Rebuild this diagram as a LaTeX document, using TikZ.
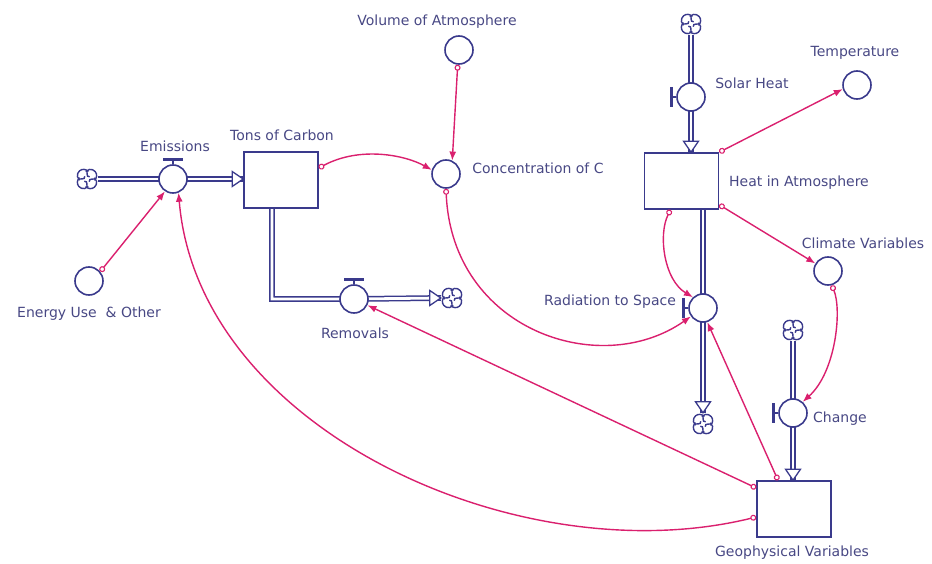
\documentclass[tikz,border=0pt]{standalone}
\usepackage{fontspec}
\newfontfamily\lblfont{DejaVu Sans}
\usetikzlibrary{arrows.meta,calc}
\pgfdeclarelayer{background}
\pgfsetlayers{background,main}
\definecolor{navy}{RGB}{58,58,140}
\definecolor{txt}{RGB}{72,72,132}
\definecolor{mag}{RGB}{218,32,110}
\newcommand{\tipR}[1]{\draw[draw=navy,fill=white,line width=1.3pt] (#1) -- ++(-11,-7.5) -- ++(0,15) -- cycle;}
\newcommand{\tipD}[1]{\draw[draw=navy,fill=white,line width=1.3pt] (#1) -- ++(-7.5,-11) -- ++(15,0) -- cycle;}
\newcommand{\handleT}[1]{\draw[navy,line width=1.4pt] (#1.north) -- ++(0,-4);
  \draw[navy,line width=2.8pt] ($(#1.north)+(-10,-5)$) -- ++(20,0);}
\newcommand{\handleL}[1]{\draw[navy,line width=1.4pt] (#1.west) -- ++(-4,0);
  \draw[navy,line width=2.8pt] ($(#1.west)+(-5,-10)$) -- ++(0,20);}
\tikzset{
 valve/.style={circle,draw=navy,line width=1.6pt,fill=white,minimum size=28pt,inner sep=0pt},
 aux/.style={circle,draw=navy,line width=1.6pt,fill=white,minimum size=28pt,inner sep=0pt},
 stock/.style={rectangle,draw=navy,line width=1.6pt,fill=white,minimum width=74pt,minimum height=56pt,inner sep=0pt},
 cloudnode/.style={circle,minimum size=22pt,inner sep=0pt},
 lbl/.style={font=\lblfont\fontsize{14}{16}\selectfont,text=txt,inner sep=1pt},
 pipe/.style={draw=navy,double=white,double distance=2.8pt,line width=1.5pt},
 conn/.style={draw=mag,line width=1.4pt,{Circle[open,length=6pt,width=6pt,line width=1.1pt]}-{Latex[length=9pt,width=7pt]}},
 cloudsym/.pic={
  \begin{scope}[x=1.35pt,y=1.35pt,navy,line width=1.4pt]
  \foreach \a in {45,135,225,315}{
    \draw (\a:3.6) ++(\a-95:4.6) arc[start angle=\a-95,end angle=\a+95,radius=4.6];
    \draw (\a+45:5.2) .. controls (\a+45:2.5) and (\a+15:1) .. (\a-5:2.6);
  }
  \end{scope}
 }
}
\begin{document}
\begin{tikzpicture}[x=1pt,y=-1pt]
\useasboundingbox (0,0) rectangle (932,564);
% nodes
\node[cloudnode] (cE) at (87,179) {};
\node[valve] (emis) at (173,179) {};
\node[stock] (tons) at (281,180) {};
\node[aux] (energy) at (89,281) {};
\node[valve] (remv) at (354,299) {};
\node[cloudnode] (cR) at (452,298) {};
\node[aux] (vol) at (459,50) {};
\node[aux] (conc) at (446,174) {};
\node[stock] (heat) at (681.5,181) {};
\node[cloudnode] (cS) at (691,24) {};
\node[valve] (solar) at (691,97) {};
\node[aux] (temp) at (857,85) {};
\node[aux] (clim) at (828,271) {};
\node[valve] (rad) at (703,308) {};
\node[cloudnode] (cD) at (703,424) {};
\node[cloudnode] (cC) at (793,330) {};
\node[valve] (chg) at (793,413) {};
\node[stock] (geo) at (794,509) {};
% clouds
\foreach \c in {cE,cR,cS,cD,cC} {\pic at (\c) {cloudsym};}
% pipes
\begin{pgfonlayer}{background}
\draw[pipe] (cE.east) -- (emis.center) -- (emis.center -| tons.center);
\draw[pipe] ($(tons.center)+(-9,0)$) |- (remv.center) -- (cR.west);
\draw[pipe] (cS.south) -- (solar.center) -- (solar.center |- heat.center);
\draw[pipe] (rad.center |- heat.center) -- (rad.center) -- (cD.north);
\draw[pipe] (cC.south) -- (chg.center) -- (chg.center |- geo.center);
\end{pgfonlayer}
\tipR{emis.center -| tons.west}
\tipR{cR.west}
\tipD{solar.center |- heat.north}
\tipD{cD.north}
\tipD{chg.center |- geo.north}
% handles
\handleT{emis}
\handleT{remv}
\handleL{solar}
\handleL{rad}
\handleL{chg}
% labels
\node[lbl] (lEmis) at (175,146) {Emissions};
\node[lbl] (lTons) at (282,135) {Tons of Carbon};
\node[lbl] (lEnergy) at (89,314) {Energy Use\ \ \& Other};
\node[lbl] (lVol) at (437,22) {Volume of Atmosphere};
\node[lbl] (lConc) at (538,168) {Concentration of C};
\node[lbl] (lRemv) at (355,333) {Removals};
\node[lbl] (lRad) at (610,302) {Radiation to Space};
\node[lbl] (lSolar) at (752,83) {Solar Heat};
\node[lbl] (lTemp) at (855,53) {Temperature};
\node[lbl] (lHeat) at (799,183) {Heat in Atmosphere};
\node[lbl] (lClim) at (863,243) {Climate Variables};
\node[lbl] (lChg) at (840,419) {Change};
\node[lbl] (lGeo) at (792,553) {Geophysical Variables};
% connectors
\draw[conn] (energy.40) -- (emis.237);
\draw[conn] ($(geo.west)+(0,8)$) .. controls (520,575) and (198,430) .. (emis.292);
\draw[conn] ($(tons.east)+(0,-12)$) .. controls (360,146) and (405,155) .. (conc.164);
\draw[conn] (vol.265) -- (conc.65);
\draw[conn] (conc.south) .. controls (452,330) and (600,380) .. (rad.215);
\draw[conn] ($(heat.south)+(-11,0)$) .. controls (658,235) and (664,280) .. (rad.133);
\draw[conn] ($(geo.north)+(-16,0)$) -- (rad.287);
\draw[conn] ($(geo.west)+(0,-21)$) -- (remv.335);
\draw[conn] (heat.north east) -- (temp.196);
\draw[conn] ($(heat.south east)+(0,-5)$) -- (clim.149);
\draw[conn] (clim.285) .. controls (842,310) and (836,372) .. (chg.49);
\end{tikzpicture}
\end{document}
